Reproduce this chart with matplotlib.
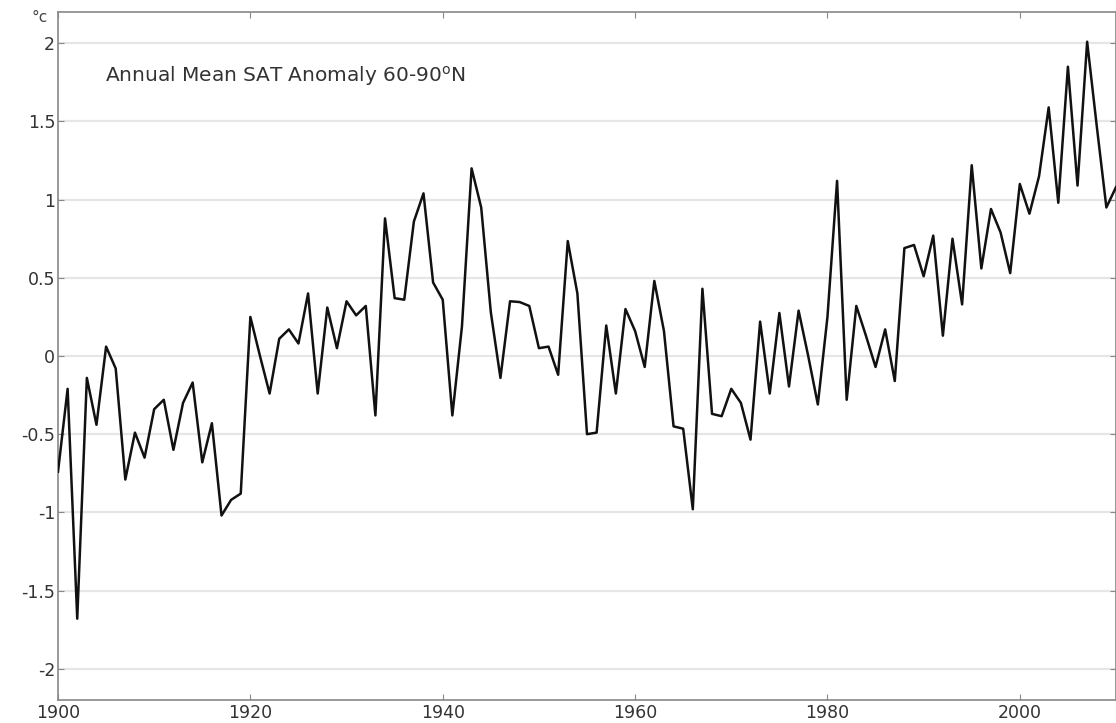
import numpy as np
import matplotlib
matplotlib.use('Agg')
import matplotlib.pyplot as plt

plt.rcParams['font.family'] = ['DejaVu Sans']
plt.rcParams['mathtext.fontset'] = 'dejavusans'

# 年份与年均地表气温距平 (60-90°N)
years = list(range(1900, 2011))
sat_anomaly = [
    -0.74, -0.21, -1.68, -0.14, -0.44, 0.06, -0.08, -0.79, -0.49, -0.65,   # 1900-1909
    -0.34, -0.28, -0.60, -0.30, -0.17, -0.68, -0.43, -1.02, -0.92, -0.88,  # 1910-1919
    0.25, 0.00, -0.24, 0.11, 0.17, 0.08, 0.40, -0.24, 0.31, 0.05,          # 1920-1929
    0.35, 0.26, 0.32, -0.38, 0.88, 0.37, 0.36, 0.86, 1.04, 0.47,           # 1930-1939
    0.36, -0.38, 0.19, 1.20, 0.95, 0.28, -0.14, 0.35, 0.345, 0.32,         # 1940-1949
    0.05, 0.06, -0.12, 0.735, 0.40, -0.50, -0.49, 0.195, -0.24, 0.30,      # 1950-1959
    0.16, -0.07, 0.48, 0.16, -0.45, -0.465, -0.98, 0.43, -0.37, -0.385,    # 1960-1969
    -0.21, -0.30, -0.535, 0.22, -0.24, 0.275, -0.195, 0.29, 0.00, -0.31,   # 1970-1979
    0.25, 1.12, -0.28, 0.32, 0.13, -0.07, 0.17, -0.16, 0.69, 0.71,         # 1980-1989
    0.51, 0.77, 0.13, 0.75, 0.33, 1.22, 0.56, 0.94, 0.79, 0.53,            # 1990-1999
    1.10, 0.91, 1.15, 1.59, 0.98, 1.85, 1.09, 2.01, 1.47, 0.95,            # 2000-2009
    1.08,                                                                  # 2010
]
x_ticks = [1900, 1920, 1940, 1960, 1980, 2000]
y_ticks = [-2, -1.5, -1, -0.5, 0, 0.5, 1, 1.5, 2]
y_tick_labels = ['-2', '-1.5', '-1', '-0.5', '0', '0.5', '1', '1.5', '2']

fig = plt.figure(figsize=(11.16, 7.23), dpi=100)
ax = fig.add_axes([58 / 1116, 23 / 723, 1 - 58 / 1116, 688 / 723])

# 绘制折线
ax.plot(years, sat_anomaly, color='#111111', linewidth=1.8, zorder=3)

ax.set_xlim(1900, 2010)
ax.set_ylim(-2.2, 2.2)
ax.set_xticks(x_ticks)
ax.set_yticks(y_ticks)
ax.set_yticklabels(y_tick_labels)

# 只有横向网格线
ax.yaxis.grid(True, color='#e6e6e6', linewidth=1.6)
ax.xaxis.grid(False)
ax.set_axisbelow(True)

ax.tick_params(direction='in', length=4, width=0.8, color='#888888',
               labelcolor='#333333', labelsize=12.5, top=True, right=True, pad=3)
ax.tick_params(axis='y', pad=2)
for s in ax.spines.values():
    s.set_color('#888888')
    s.set_linewidth(1.2)

fig.text(105 / 1116, 1 - 76 / 723, r'Annual Mean SAT Anomaly 60-90$^{\mathrm{o}}$N',
         fontsize=14.5, color='#333333', va='center', ha='left')
fig.text(40 / 1116, 1 - 18 / 723, '°c', fontsize=11, color='#444444',
         ha='center', va='center')

fig.savefig('out.png', dpi=100)
